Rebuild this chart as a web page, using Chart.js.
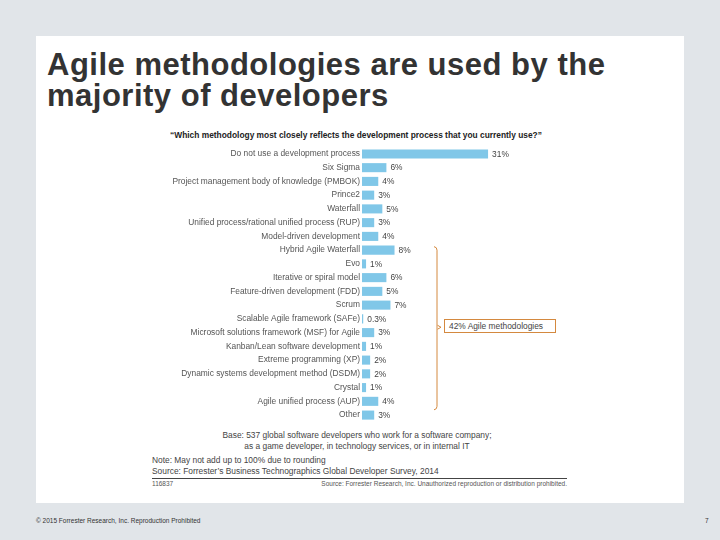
<!DOCTYPE html>
<html>
<head>
<meta charset="utf-8">
<script src="https://cdn.jsdelivr.net/npm/chart.js@4"></script>
<style>
  html, body { margin:0; padding:0; }
  body { width:720px; height:540px; background:#e1e5e9; position:relative; overflow:hidden;
         font-family:"Liberation Sans", Arial, sans-serif; }
  #panel { position:absolute; left:36px; top:36px; width:648px; height:467px; background:#ffffff; }
  #title { position:absolute; left:47px; top:49px; font-weight:bold; font-size:31px; line-height:31px; letter-spacing:0.5px; color:#333333; white-space:nowrap; }
  #question { position:absolute; left:356px; top:130px; transform:translateX(-50%); font-weight:bold; font-size:8.4px; line-height:10px; color:#222; white-space:nowrap; }
  #chartbox { position:absolute; left:150px; top:140px; width:456px; height:289px; }
  #agile { position:absolute; left:444px; top:319px; width:106px; height:12px; border:1px solid #d4893f; font-size:8.4px; line-height:12px; color:#444; padding-left:4px; white-space:nowrap; background:#fff; }
  .base { position:absolute; left:357px; transform:translateX(-50%); font-size:8.4px; line-height:10px; color:#444; white-space:nowrap; }
  .note { position:absolute; left:152px; font-size:8.4px; line-height:10px; color:#444; white-space:nowrap; }
  #rule { position:absolute; left:152px; top:478px; width:415px; height:1px; background:#444; }
  .small { position:absolute; font-size:6.5px; line-height:8px; color:#555; white-space:nowrap; }
  .footer { position:absolute; top:517px; font-size:6.5px; line-height:8px; color:#333; white-space:nowrap; }
</style>
</head>
<body>
<div id="panel"></div>
<div id="title">Agile methodologies are used by the<br>majority of developers</div>
<div id="question">“Which methodology most closely reflects the development process that you currently use?”</div>
<div id="chartbox"><canvas id="c"></canvas></div>
<div id="agile">42% Agile methodologies</div>
<div class="base" style="top:430px">Base: 537 global software developers who work for a software company;</div>
<div class="base" style="top:441px">as a game developer, in technology services, or in internal IT</div>
<div class="note" style="top:455px">Note: May not add up to 100% due to rounding</div>
<div class="note" style="top:466px">Source: Forrester’s Business Technographics Global Developer Survey, 2014</div>
<div id="rule"></div>
<div class="small" style="left:152px; top:480px">116837</div>
<div class="small" style="left:567px; top:480px; transform:translateX(-100%)">Source: Forrester Research, Inc. Unauthorized reproduction or distribution prohibited.</div>
<div class="footer" style="left:36px">© 2015 Forrester Research, Inc. Reproduction Prohibited</div>
<div class="footer" style="left:705px">7</div>
<script>
const categories = [
  "Do not use a development process",
  "Six Sigma",
  "Project management body of knowledge (PMBOK)",
  "Prince2",
  "Waterfall",
  "Unified process/rational unified process (RUP)",
  "Model-driven development",
  "Hybrid Agile Waterfall",
  "Evo",
  "Iterative or spiral model",
  "Feature-driven development (FDD)",
  "Scrum",
  "Scalable Agile framework (SAFe)",
  "Microsoft solutions framework (MSF) for Agile",
  "Kanban/Lean software development",
  "Extreme programming (XP)",
  "Dynamic systems development method (DSDM)",
  "Crystal",
  "Agile unified process (AUP)",
  "Other"
];
const shares = [31, 6, 4, 3, 5, 3, 4, 8, 1, 6, 5, 7, 0.3, 3, 1, 2, 2, 1, 4, 3];
const agileFirst = 7;   // Hybrid Agile Waterfall
const agileLast = 18;   // Agile unified process (AUP)

const FONT = '"Liberation Sans", Arial, sans-serif';

const valueLabels = {
  id: 'valueLabels',
  afterDatasetsDraw(chart) {
    const ctx = chart.ctx;
    const meta = chart.getDatasetMeta(0);
    ctx.save();
    ctx.font = '8.4px ' + FONT;
    ctx.fillStyle = '#444';
    ctx.textBaseline = 'middle';
    ctx.textAlign = 'left';
    meta.data.forEach((bar, i) => {
      ctx.fillText(shares[i] + '%', bar.x + 4, bar.y + 0.5);
    });
    ctx.restore();
  }
};

const bracket = {
  id: 'bracket',
  afterDraw(chart) {
    const ctx = chart.ctx;
    const y = chart.scales.y;
    const yTop = y.getPixelForValue(agileFirst) - 2;
    const yBot = y.getPixelForValue(agileLast) + 7;
    const x = chart.chartArea.left + 75;
    const yMid = (yTop + yBot) / 2 - 1;
    ctx.save();
    ctx.strokeStyle = '#d4893f';
    ctx.lineWidth = 1;
    ctx.beginPath();
    ctx.moveTo(x - 3, yTop - 1.5);
    ctx.quadraticCurveTo(x, yTop - 1, x, yTop + 2);
    ctx.lineTo(x, yBot - 2);
    ctx.quadraticCurveTo(x, yBot + 1, x - 3, yBot + 1.5);
    ctx.stroke();
    ctx.beginPath();
    ctx.moveTo(x + 0.5, yMid - 2);
    ctx.lineTo(x + 4, yMid);
    ctx.lineTo(x + 0.5, yMid + 2);
    ctx.stroke();
    ctx.restore();
  }
};

new Chart(document.getElementById('c'), {
  type: 'bar',
  data: {
    labels: categories,
    datasets: [{
      data: shares,
      backgroundColor: '#80c7e8',
      borderWidth: 0,
      barPercentage: 0.66,
      categoryPercentage: 1.0
    }]
  },
  options: {
    indexAxis: 'y',
    responsive: true,
    maintainAspectRatio: false,
    animation: false,
    layout: { padding: 0 },
    plugins: { legend: { display: false }, tooltip: { enabled: false } },
    scales: {
      x: { display: false, min: 0, max: 60 },
      y: {
        grid: { display: false, drawTicks: false },
        border: { display: false },
        ticks: { font: { family: FONT, size: 8.4 }, color: '#555', padding: 2, autoSkip: false },
        afterFit(scale) { scale.width = 212; }
      }
    }
  },
  plugins: [valueLabels, bracket]
});
</script>
</body>
</html>
